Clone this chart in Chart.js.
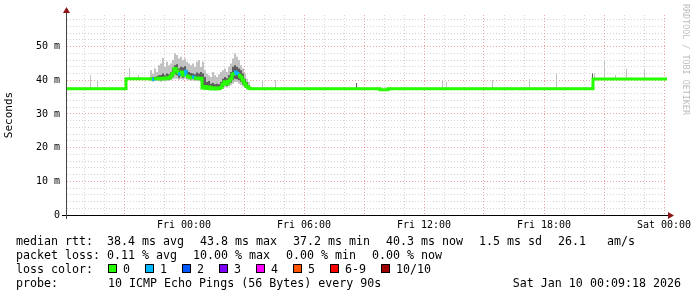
<!DOCTYPE html>
<html>
<head>
<meta charset="utf-8">
<title>median rtt</title>
<script src="https://cdn.jsdelivr.net/npm/chart.js@4.4.1/dist/chart.umd.min.js"></script>
<style>
  html, body { margin: 0; padding: 0; background: #fff; }
  #wrap { position: relative; width: 697px; height: 297px; overflow: hidden; }
  #chart { position: absolute; left: 0; top: 0; }
  .txt { position: absolute; height: 14px; font: 11.65px/14px 'DejaVu Sans Mono', monospace; color: #000; white-space: pre; }
  .sw { position: absolute; width: 9px; height: 9px; box-sizing: border-box; border: 1px solid #000; }
  #mark { position: absolute; left: 681px; top: 4px; writing-mode: vertical-rl; font: 8.4px 'DejaVu Sans Mono', monospace; color: #bdbdbd; white-space: pre; }
</style>
</head>
<body>
<div id="wrap">
  <canvas id="chart" width="697" height="297"></canvas>
  <div id="mark">RRDTOOL / TOBI OETIKER</div>
</div>
<script>
// minutes since Thu 18:09 (left edge of the graph)
const times = [
    0, 69, 72, 90, 93, 174, 177, 186, 189, 213, 216,
    249, 255, 261, 267, 273, 279, 285, 291, 297, 303, 309, 315, 321,
    327, 333, 339, 345, 351, 357, 363, 369, 375, 381, 387, 393, 399,
    405, 411, 417, 423, 429, 435, 441, 447, 453, 459, 465, 471, 477,
    483, 489, 495, 501, 507, 513, 519, 525, 531, 537, 543, 549,
    585, 588, 624, 627, 867, 870, 939, 963, 1125, 1128, 1137, 1140, 1275, 1278, 1386, 1389,
    1467, 1470, 1575, 1578, 1581, 1584, 1611, 1614, 1644, 1647, 1677, 1680, 1731, 1734, 1800
];

// median rtt, ms
const median = [
    37.5, 37.5, 37.5, 37.5, 37.5, 37.5, 40.5, 40.5, 40.5, 40.5, 40.5,
    40.4, 40.3, 40.5, 40.5, 40.6, 40.4, 40.6, 40.5, 40.8, 40.6, 41.2, 42.0, 43.5,
    42.8, 41.8, 42.5, 41.5, 42.7, 41.3, 41.0, 40.8, 41.0, 40.6, 40.7, 40.5, 40.6,
    37.7, 38.2, 37.6, 38.0, 37.5, 37.8, 37.4, 37.7, 37.5, 37.9, 38.8, 39.6, 38.9,
    39.8, 40.5, 41.8, 42.5, 42.0, 41.5, 41.0, 40.0, 39.0, 38.2, 37.7, 37.5,
    37.5, 37.5, 37.5, 37.5, 37.5, 37.5, 37.2, 37.5, 37.5, 37.5, 37.5, 37.5, 37.5, 37.5, 37.5, 37.5,
    37.5, 37.5, 37.5, 40.4, 40.4, 40.4, 40.4, 40.4, 40.4, 40.4, 40.4, 40.4, 40.4, 40.4, 40.4
];

// smoke: fastest ping, lower / upper of the dense part, slowest ping
const smokeMin = [
    37.3, 37.3, 37.3, 37.3, 37.3, 37.3, 40.3, 40.3, 40.3, 40.3, 40.3,
    39.8, 39.6, 39.8, 39.9, 39.7, 39.6, 39.8, 39.7, 39.9, 39.8, 40.0, 40.3, 40.5,
    40.5, 40.2, 40.4, 40.2, 40.5, 40.2, 40.0, 39.9, 40.0, 39.8, 39.9, 39.7, 39.6,
    37.2, 37.4, 37.1, 37.3, 37.0, 37.2, 37.0, 37.2, 37.1, 37.3, 37.6, 38.0, 37.8,
    38.2, 38.5, 39.0, 39.5, 39.5, 39.0, 38.6, 38.2, 37.7, 37.3, 37.2, 37.3,
    37.3, 37.3, 37.3, 37.3, 37.3, 37.3, 37.0, 37.3, 37.3, 37.3, 37.3, 37.3, 37.3, 37.3, 37.3, 37.3,
    37.3, 37.3, 37.3, 40.2, 40.2, 40.2, 40.2, 40.2, 40.2, 40.2, 40.2, 40.2, 40.2, 40.2, 40.2
];

const smokeLow = [
    37.4, 37.4, 37.4, 37.4, 37.4, 37.4, 40.4, 40.4, 40.4, 40.4, 40.4,
    40.1, 40.0, 40.2, 40.2, 40.2, 40.0, 40.2, 40.1, 40.3, 40.2, 40.5, 41.0, 41.8,
    41.5, 40.8, 41.3, 40.8, 41.5, 40.7, 40.5, 40.3, 40.4, 40.2, 40.3, 40.1, 40.0,
    37.5, 37.8, 37.4, 37.6, 37.3, 37.5, 37.2, 37.4, 37.3, 37.6, 38.0, 38.7, 38.3,
    38.8, 39.3, 40.0, 40.5, 40.3, 40.0, 39.5, 38.8, 38.3, 37.7, 37.4, 37.4,
    37.4, 37.4, 37.4, 37.4, 37.4, 37.4, 37.1, 37.4, 37.4, 37.4, 37.4, 37.4, 37.4, 37.4, 37.4, 37.4,
    37.4, 37.4, 37.4, 40.3, 40.3, 40.3, 40.3, 40.3, 40.3, 40.3, 40.3, 40.3, 40.3, 40.3, 40.3
];

const smokeHigh = [
    37.6, 37.6, 37.6, 37.6, 37.6, 40.5, 40.6, 40.6, 40.6, 40.6, 40.6,
    40.8, 41.0, 41.0, 41.2, 41.5, 41.6, 42.0, 41.5, 42.0, 41.8, 42.5, 43.5, 44.5,
    44.8, 43.5, 44.0, 43.8, 44.2, 43.0, 42.5, 42.2, 42.0, 41.8, 42.3, 42.0, 42.5,
    42.0, 41.0, 39.5, 39.8, 39.0, 39.2, 38.8, 39.0, 38.8, 39.5, 40.5, 41.0, 40.6,
    41.5, 42.5, 44.0, 44.5, 44.0, 43.5, 43.0, 42.0, 40.5, 39.5, 38.5, 37.6,
    37.6, 37.6, 37.6, 37.6, 39.2, 37.6, 37.3, 37.6, 37.6, 37.6, 37.6, 37.6, 37.6, 37.6, 37.6, 37.6,
    37.6, 37.6, 42.0, 40.5, 40.5, 40.5, 40.5, 40.5, 40.5, 40.5, 40.5, 40.5, 40.5, 40.5, 40.5
];

const smokeMax = [
    37.8, 41.6, 37.8, 40.1, 37.8, 40.5, 40.8, 43.6, 40.8, 41.6, 40.8,
    43.0, 42.0, 43.5, 42.5, 44.5, 45.0, 46.6, 44.0, 45.5, 44.5, 45.0, 46.0, 48.0,
    47.5, 46.5, 47.0, 46.0, 46.5, 45.5, 45.0, 44.5, 45.0, 44.0, 45.5, 46.0, 44.0,
    45.5, 43.0, 42.0, 41.5, 41.0, 42.5, 41.5, 41.0, 41.8, 42.5, 43.0, 43.5, 42.5,
    44.0, 45.0, 46.5, 48.0, 47.0, 46.0, 44.5, 43.5, 42.0, 40.5, 39.5, 37.8,
    40.1, 37.8, 40.1, 37.8, 39.2, 37.8, 37.5, 37.8, 40.1, 37.8, 39.6, 37.8, 40.1, 37.8, 40.4, 37.8,
    42.1, 37.8, 42.0, 40.7, 42.0, 40.7, 46.0, 40.7, 41.6, 40.7, 43.4, 40.7, 43.4, 40.7, 40.7
];

// lost pings out of 10 for each step
const loss = [
    0, 0, 0, 0, 0, 0, 0, 0, 0, 0, 0,
    0, 1, 0, 0, 0, 0, 0, 0, 0, 0, 0, 0, 0,
    0, 1, 0, 0, 1, 0, 0, 0, 1, 0, 0, 0, 0,
    0, 0, 0, 0, 0, 0, 0, 0, 0, 0, 0, 0, 0,
    0, 0, 0, 1, 1, 0, 0, 0, 0, 0, 0, 0,
    0, 0, 0, 0, 0, 0, 0, 0, 0, 0, 0, 0, 0, 0, 0, 0,
    0, 0, 0, 0, 0, 0, 0, 0, 0, 0, 0, 0, 0, 0, 0
];

const lossLabels = ['0', '1', '2', '3', '4', '5', '6-9', '10/10'];
const lossColors = ['#26ff00', '#00b8ff', '#0059ff', '#7e00ff', '#ff00ff', '#ff5500', '#ff0000', '#a10000'];

const xLabelMinutes = [351, 711, 1071, 1431, 1791];
const xLabels = ['Fri 00:00', 'Fri 06:00', 'Fri 12:00', 'Fri 18:00', 'Sat 00:00'];

const yTickValues = [0, 10, 20, 30, 40, 50];
const yTickLabels = ['0', '10 m', '20 m', '30 m', '40 m', '50 m'];

const rttStats = ['median rtt:', '38.4 ms avg', '43.8 ms max', '37.2 ms min', '40.3 ms now', '1.5 ms sd', '26.1', 'am/s'];
const lossStats = ['packet loss:', '0.11 % avg', '10.00 % max', '0.00 % min', '0.00 % now'];
const probeText = ['probe:', '10 ICMP Echo Pings (56 Bytes) every 90s'];
const stampText = 'Sat Jan 10 00:09:18 2026';

const startHour = 18;
const startMinute = 9;
const xMax = 1800;
const yMax = 59.4;

const MONO = "'DejaVu Sans Mono', monospace";
const MAJOR = 'rgba(230, 90, 90, 0.55)';
const MINOR = 'rgba(150, 150, 150, 0.4)';

function clockHour(minutes) {
    return ((startHour * 60 + startMinute + minutes) / 60) % 24;
}

function lossColor(lost) {
    if (lost >= 10) return lossColors[7];
    if (lost >= 6) return lossColors[6];
    return lossColors[lost];
}

function series(values) {
    return times.map((t, i) => ({ x: t, y: values[i] }));
}

function band(values, fill, color) {
    return {
        data: series(values),
        stepped: true,
        borderWidth: 0,
        borderColor: 'transparent',
        backgroundColor: color,
        fill: fill,
        pointRadius: 0
    };
}

function buildDatasets() {
    return [
        {
            data: series(median),
            stepped: true,
            borderWidth: 3,
            borderColor: lossColors[0],
            borderCapStyle: 'butt',
            borderJoinStyle: 'miter',
            fill: false,
            pointRadius: 0,
            segment: {
                borderColor: (ctx) => lossColor(loss[ctx.p0DataIndex])
            }
        },
        band(smokeHigh, 2, '#5e5e5e'),
        band(smokeLow, false, 'transparent'),
        band(smokeMax, 4, '#c2c2c2'),
        band(smokeMin, false, 'transparent')
    ];
}

const axisArrows = {
    id: 'axisArrows',
    afterDraw(chart) {
        const { ctx, chartArea: a } = chart;
        const x = a.left - 0.5;
        const y = a.bottom + 0.5;
        ctx.save();
        ctx.lineWidth = 1;
        ctx.strokeStyle = '#000';
        ctx.beginPath();
        ctx.moveTo(a.left - 5, y);
        ctx.lineTo(a.right + 3, y);
        ctx.stroke();
        ctx.strokeStyle = '#444';
        ctx.beginPath();
        ctx.moveTo(x, a.bottom + 4);
        ctx.lineTo(x, a.top - 3);
        ctx.stroke();
        ctx.fillStyle = '#8e1515';
        ctx.beginPath();
        ctx.moveTo(x, a.top - 8);
        ctx.lineTo(x - 3.5, a.top - 2);
        ctx.lineTo(x + 3.5, a.top - 2);
        ctx.closePath();
        ctx.fill();
        ctx.beginPath();
        ctx.moveTo(a.right + 7, y);
        ctx.lineTo(a.right + 1, y - 3.5);
        ctx.lineTo(a.right + 1, y + 3.5);
        ctx.closePath();
        ctx.fill();
        ctx.restore();
    }
};

function buildOptions() {
    const hourMarks = [];
    for (let m = (60 - startMinute) % 60; m <= xMax; m += 60) hourMarks.push(m);

    return {
        responsive: false,
        animation: false,
        devicePixelRatio: 1,
        layout: { padding: { top: 15, right: 30, bottom: 0, left: 0 } },
        plugins: {
            legend: { display: false },
            tooltip: { enabled: false }
        },
        scales: {
            x: {
                type: 'linear',
                min: 0,
                max: xMax,
                afterFit: (scale) => { scale.height = 82; },
                afterBuildTicks: (scale) => { scale.ticks = hourMarks.map(v => ({ value: v })); },
                grid: {
                    drawTicks: false,
                    lineWidth: 1,
                    color: (ctx) => Math.round(clockHour(ctx.tick.value)) % 3 === 0 ? MAJOR : MINOR
                },
                border: { display: false, dash: [1, 2] },
                ticks: {
                    autoSkip: false,
                    maxRotation: 0,
                    padding: 4,
                    color: '#000',
                    font: { family: MONO, size: 10 },
                    callback: (value) => {
                        const i = xLabelMinutes.indexOf(value);
                        return i >= 0 ? xLabels[i] : '';
                    }
                }
            },
            y: {
                min: 0,
                max: yMax,
                afterFit: (scale) => { scale.width = 67; },
                grid: {
                    drawTicks: false,
                    lineWidth: 1,
                    color: (ctx) => {
                        const v = ctx.tick.value;
                        if (v === 0) return 'transparent';
                        return v % 10 === 0 ? MAJOR : MINOR;
                    }
                },
                border: { display: false, dash: [1, 2] },
                title: {
                    display: true,
                    text: 'Seconds',
                    color: '#000',
                    font: { family: MONO, size: 11 },
                    padding: { top: 3, bottom: 0 }
                },
                ticks: {
                    stepSize: 2,
                    includeBounds: false,
                    autoSkip: false,
                    padding: 7,
                    color: '#000',
                    font: { family: MONO, size: 10 },
                    callback: (value) => {
                        const i = yTickValues.indexOf(value);
                        return i >= 0 ? yTickLabels[i] : '';
                    }
                }
            }
        }
    };
}

function addText(wrap, left, top, text, right) {
    const el = document.createElement('div');
    el.className = 'txt';
    el.style.top = top + 'px';
    if (right !== undefined) el.style.right = right + 'px';
    else el.style.left = left + 'px';
    el.textContent = text;
    wrap.appendChild(el);
}

function buildLegend() {
    const wrap = document.getElementById('wrap');
    const charW = 7.0;

    [16, 107, 200, 293, 386, 479, 558, 607].forEach((x, i) => addText(wrap, x, 234, rttStats[i]));
    [16, 107, 193, 286, 372].forEach((x, i) => addText(wrap, x, 248, lossStats[i]));

    addText(wrap, 16, 262, 'loss color:');
    let x = 108;
    lossLabels.forEach((label, i) => {
        const sw = document.createElement('div');
        sw.className = 'sw';
        sw.style.left = x + 'px';
        sw.style.top = '264px';
        sw.style.background = lossColors[i];
        wrap.appendChild(sw);
        addText(wrap, x + 15, 262, label);
        x += 15 + label.length * charW + 15;
    });

    addText(wrap, 16, 276, probeText[0]);
    addText(wrap, 108, 276, probeText[1]);
    addText(wrap, 0, 276, stampText, 16);
}

new Chart(document.getElementById('chart'), {
    type: 'line',
    data: { datasets: buildDatasets() },
    options: buildOptions(),
    plugins: [axisArrows]
});

buildLegend();
</script>
</body>
</html>
